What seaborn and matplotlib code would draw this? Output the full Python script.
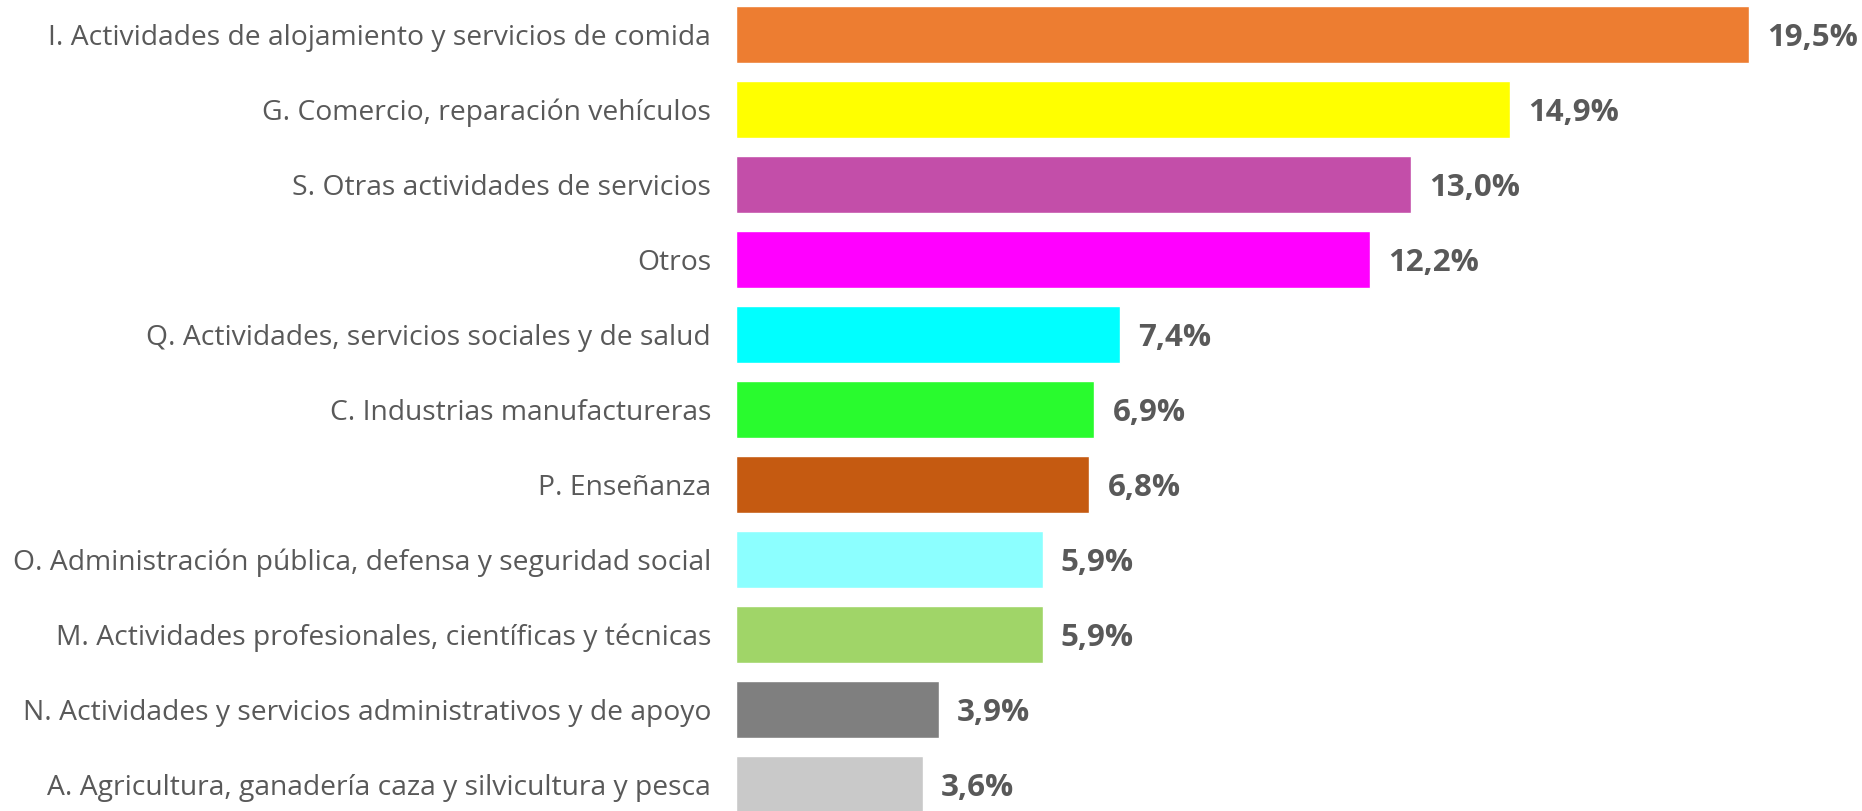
import matplotlib
matplotlib.use("Agg")
import matplotlib.pyplot as plt
import seaborn as sns
import pandas as pd

sns.set_style("white")
plt.rcParams['font.family'] = ['Open Sans', 'DejaVu Sans']

categories = [
    "I. Actividades de alojamiento y servicios de comida",
    "G. Comercio, reparación vehículos",
    "S. Otras actividades de servicios",
    "Otros",
    "Q. Actividades, servicios sociales y de salud",
    "C. Industrias manufactureras",
    "P. Enseñanza",
    "O. Administración pública, defensa y seguridad social",
    "M. Actividades profesionales, científicas y técnicas",
    "N. Actividades y servicios administrativos y de apoyo",
    "A. Agricultura, ganadería caza y silvicultura y pesca",
]
values = [19.5, 14.9, 13.0, 12.2, 7.4, 6.9, 6.8, 5.9, 5.9, 3.9, 3.6]
colors = ["#ED7D31", "#FFFF00", "#C34EA9", "#FF00FF", "#00FFFF", "#29FB2E",
          "#C55A11", "#8CFFFF", "#A0D568", "#7F7F7F", "#C9C9C9"]

df = pd.DataFrame({"cat": categories, "val": values})

fig = plt.figure(figsize=(18.62, 8.11), dpi=100)
ax = fig.add_axes([736 / 1862, 0, 1 - 736 / 1862, 1])

sns.barplot(data=df, x="val", y="cat", hue="cat", palette=colors,
            width=0.77, legend=False, ax=ax, saturation=1)

for i, v in enumerate(values):
    ax.text(v + 0.35, i + 0.04, f"{v:.1f}%".replace(".", ","), va="center", ha="left",
            fontsize=22.5, fontweight="bold", color="#595959")

ax.set_xlim(0, 1126 / 51.95)
ax.set_ylim(10.353, -0.46)
ax.set_xlabel("")
ax.set_ylabel("")
ax.set_xticks([])
ax.tick_params(axis="y", length=0, pad=18, labelsize=20.3, labelcolor="#595959")
sns.despine(ax=ax, left=True, bottom=True, top=True, right=True)

fig.savefig("out.png", dpi=100)
